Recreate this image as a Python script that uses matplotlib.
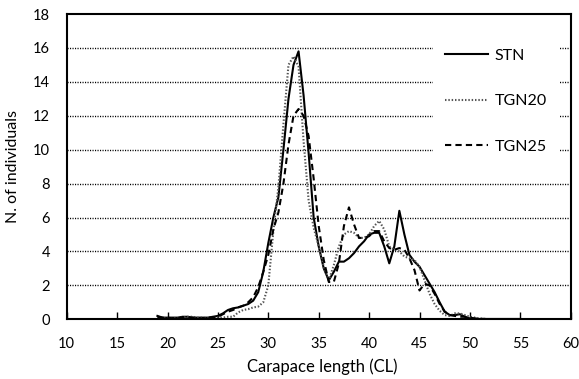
import numpy as np
import matplotlib
matplotlib.use("Agg")
import matplotlib.pyplot as plt

plt.rcParams['font.family'] = ['Lato', 'DejaVu Sans']

# Carapace length classes (0.5 step grid)
cl = np.arange(19.0, 55.01, 0.5)

stn = [0.2, 0.1, 0.1, 0.1, 0.1, 0.15, 0.15, 0.1, 0.1, 0.1,
       0.1, 0.15, 0.2, 0.35, 0.55, 0.65, 0.7, 0.8, 0.9, 1.1,
       1.6, 2.8, 4.5, 6.0, 7.2, 10.0, 13.0, 15.0, 15.8, 13.2,
       9.8, 6.0, 4.3, 3.0, 2.3, 2.8, 3.4, 3.4, 3.6, 3.9,
       4.3, 4.6, 5.0, 5.1, 5.1, 4.3, 3.3, 4.3, 6.4, 5.0,
       3.8, 3.4, 3.1, 2.6, 2.1, 1.6, 1.0, 0.45, 0.25, 0.25,
       0.3, 0.15, 0.05, 0.03, 0.02, 0.02, 0.02, 0.02, 0.02, 0.02,
       0.02, 0.02, 0.02]

tgn20 = [0.05, 0.05, 0.05, 0.05, 0.05, 0.1, 0.15, 0.15, 0.1, 0.1,
         0.05, 0.1, 0.1, 0.1, 0.15, 0.15, 0.4, 0.55, 0.6, 0.7,
         0.75, 1.0, 2.0, 5.2, 7.8, 11.5, 15.0, 15.5, 14.9, 10.5,
         7.0, 5.4, 4.3, 3.1, 2.3, 3.2, 4.3, 5.0, 5.2, 5.1,
         4.8, 4.8, 5.0, 5.5, 5.8, 5.3, 4.3, 4.1, 4.0, 3.7,
         3.6, 3.5, 3.1, 2.3, 1.5, 0.9, 0.5, 0.25, 0.2, 0.35,
         0.35, 0.25, 0.15, 0.1, 0.05, 0.02, 0.0]

tgn25 = [0.15, 0.1, 0.1, 0.05, 0.05, 0.1, 0.1, 0.1, 0.05, 0.05,
         0.1, 0.1, 0.15, 0.3, 0.45, 0.55, 0.7, 0.8, 1.0, 1.3,
         1.9, 2.8, 3.8, 5.3, 6.3, 8.0, 10.3, 12.0, 12.4, 12.0,
         10.8, 8.3, 5.5, 3.5, 2.2, 2.2, 3.3, 5.5, 6.6, 5.6,
         4.8, 4.8, 4.9, 5.2, 5.2, 4.6, 4.2, 4.1, 4.2, 4.1,
         3.6, 2.9, 1.7, 2.1, 2.0, 1.5, 0.9, 0.45, 0.25, 0.2,
         0.15, 0.15, 0.1, 0.05, 0.03, 0.02, 0.0]

labels = ["STN", "TGN20", "TGN25"]
xticks = [10, 15, 20, 25, 30, 35, 40, 45, 50, 55, 60]
yticks = [0, 2, 4, 6, 8, 10, 12, 14, 16, 18]

fig = plt.figure(figsize=(5.79, 3.79), dpi=100)
ax = fig.add_axes([0.1152, 0.1575, 0.8705, 0.8055])

ax.plot(cl[:len(stn)], stn, color='black', lw=1.5, ls='-', label=labels[0])
ax.plot(cl[:len(tgn20)], tgn20, color='#555555', lw=1.5, ls=(0, (0.7, 0.9)), label=labels[1])
ax.plot(cl[:len(tgn25)], tgn25, color='black', lw=1.5, ls=(0, (3, 2)), label=labels[2])

ax.set_xlim(10, 60)
ax.set_ylim(0, 18)
ax.set_xticks(xticks)
ax.set_yticks(yticks)
ax.tick_params(axis='x', direction='in', length=5, width=1, pad=13, labelsize=10.5, color='black')
ax.tick_params(axis='y', length=0, pad=12, labelsize=10.5)

for g in yticks[1:-1]:
    ax.axhline(g, color='black', lw=1.0, ls=(0, (0.8, 1.0)), zorder=0)

for s in ax.spines.values():
    s.set_linewidth(1.5)
    s.set_color('black')

ax.set_xlabel("Carapace length (CL)", fontsize=12)
ax.xaxis.set_label_coords(0.508, -0.128)
ax.set_ylabel("N. of individuals", fontsize=11.5)
ax.yaxis.set_label_coords(-0.093, 0.5)

leg = ax.legend(loc='upper left', bbox_to_anchor=(0.727, 0.925), frameon=True,
                fancybox=False, edgecolor='white', facecolor='white', framealpha=1,
                handlelength=2.7, handletextpad=0.4, labelspacing=1.95,
                borderpad=0.75, borderaxespad=0, fontsize=11.5)
leg.get_frame().set_linewidth(0)

fig.savefig("out.png", dpi=100)
